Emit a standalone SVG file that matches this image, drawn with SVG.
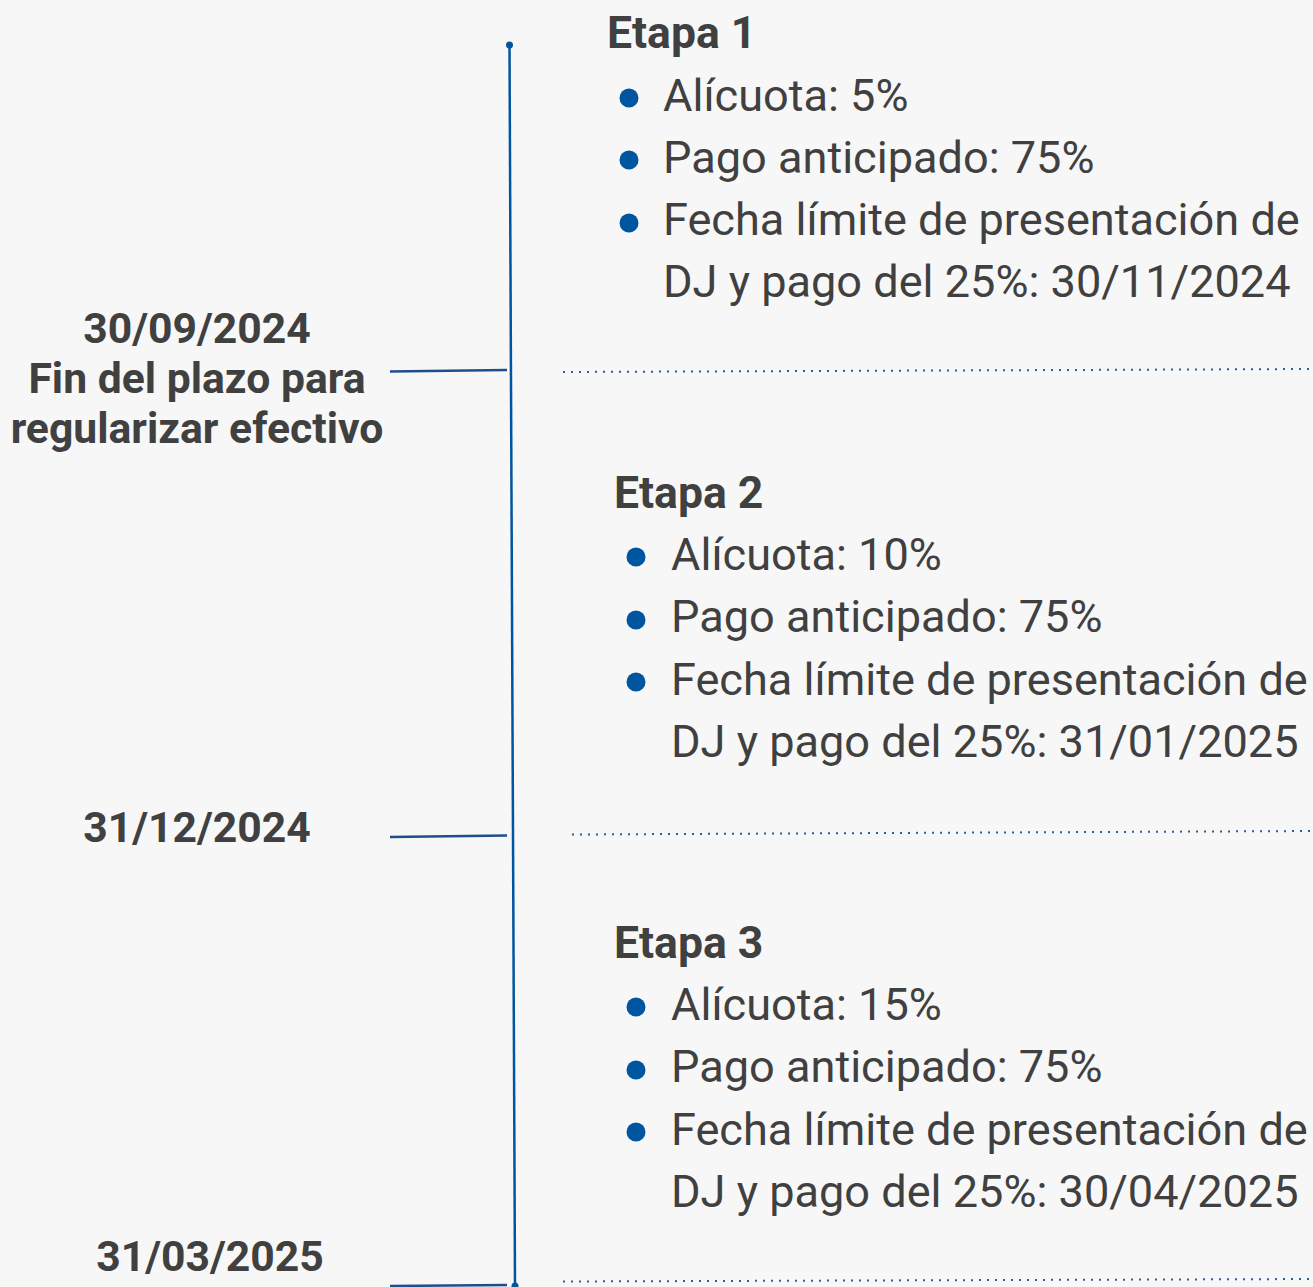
<svg xmlns="http://www.w3.org/2000/svg" width="1313" height="1287" viewBox="0 0 1313 1287">
<style>
.lbl{font-family:Roboto,"Liberation Sans",sans-serif;font-weight:bold;font-size:42.7px;fill:#404040;text-anchor:middle}
.hd{font-family:Roboto,"Liberation Sans",sans-serif;font-weight:bold;font-size:44.5px;fill:#404040}
.tx{font-family:Roboto,"Liberation Sans",sans-serif;font-size:45.1px;fill:#404040}
.bul{fill:#0055a0}
.tick{stroke:#1f4e8c;stroke-width:2.5;fill:none}
.axis{stroke:#0055a0;stroke-width:2.5;fill:none}
.dot{stroke:#2f5d96;stroke-width:2;stroke-dasharray:2 6;fill:none}
</style>
<rect width="1313" height="1287" fill="#f7f7f7"/>
<g id="connectors">
<line class="axis" x1="509.5" y1="45" x2="515" y2="1285"/>
<circle cx="509.5" cy="45" r="3.5" fill="#0055a0"/>
<circle cx="515" cy="1286" r="3.5" fill="#0055a0"/>
<line class="tick" x1="390" y1="371.5" x2="507" y2="370"/>
<line class="tick" x1="390" y1="837" x2="507" y2="835.5"/>
<line class="tick" x1="390" y1="1286" x2="507" y2="1285"/>
<line class="dot" x1="563" y1="372" x2="1313" y2="369"/>
<line class="dot" x1="572" y1="834.5" x2="1313" y2="831"/>
<line class="dot" x1="563" y1="1281.5" x2="1313" y2="1279"/>
</g>
<g id="date1">
<text class="lbl" x="197" y="343">30/09/2024</text>
<text class="lbl" x="197" y="393">Fin del plazo para</text>
<text class="lbl" x="197" y="443">regularizar efectivo</text>
</g>
<g id="date2"><text class="lbl" x="197" y="842">31/12/2024</text></g>
<g id="date3"><text class="lbl" x="210" y="1271">31/03/2025</text></g>
<g id="etapa1">
<text class="hd" x="607" y="48">Etapa 1</text>
<circle class="bul" cx="629" cy="98" r="9.5"/>
<circle class="bul" cx="629" cy="160" r="9.5"/>
<circle class="bul" cx="629" cy="223" r="9.5"/>
<text class="tx" x="663" y="111">Alícuota: 5%</text>
<text class="tx" x="663" y="173">Pago anticipado: 75%</text>
<text class="tx" x="663" y="235">Fecha límite de presentación de</text>
<text class="tx" x="663" y="297">DJ y pago del 25%: 30/11/2024</text>
</g>
<g id="etapa2">
<text class="hd" x="614" y="508">Etapa 2</text>
<circle class="bul" cx="636" cy="557" r="9.5"/>
<circle class="bul" cx="636" cy="620" r="9.5"/>
<circle class="bul" cx="636" cy="682" r="9.5"/>
<text class="tx" x="671" y="570">Alícuota: 10%</text>
<text class="tx" x="671" y="632">Pago anticipado: 75%</text>
<text class="tx" x="671" y="695">Fecha límite de presentación de</text>
<text class="tx" x="671" y="757">DJ y pago del 25%: 31/01/2025</text>
</g>
<g id="etapa3">
<text class="hd" x="614" y="958">Etapa 3</text>
<circle class="bul" cx="636" cy="1007" r="9.5"/>
<circle class="bul" cx="636" cy="1070" r="9.5"/>
<circle class="bul" cx="636" cy="1132" r="9.5"/>
<text class="tx" x="671" y="1020">Alícuota: 15%</text>
<text class="tx" x="671" y="1082">Pago anticipado: 75%</text>
<text class="tx" x="671" y="1145">Fecha límite de presentación de</text>
<text class="tx" x="671" y="1207">DJ y pago del 25%: 30/04/2025</text>
</g>
</svg>
